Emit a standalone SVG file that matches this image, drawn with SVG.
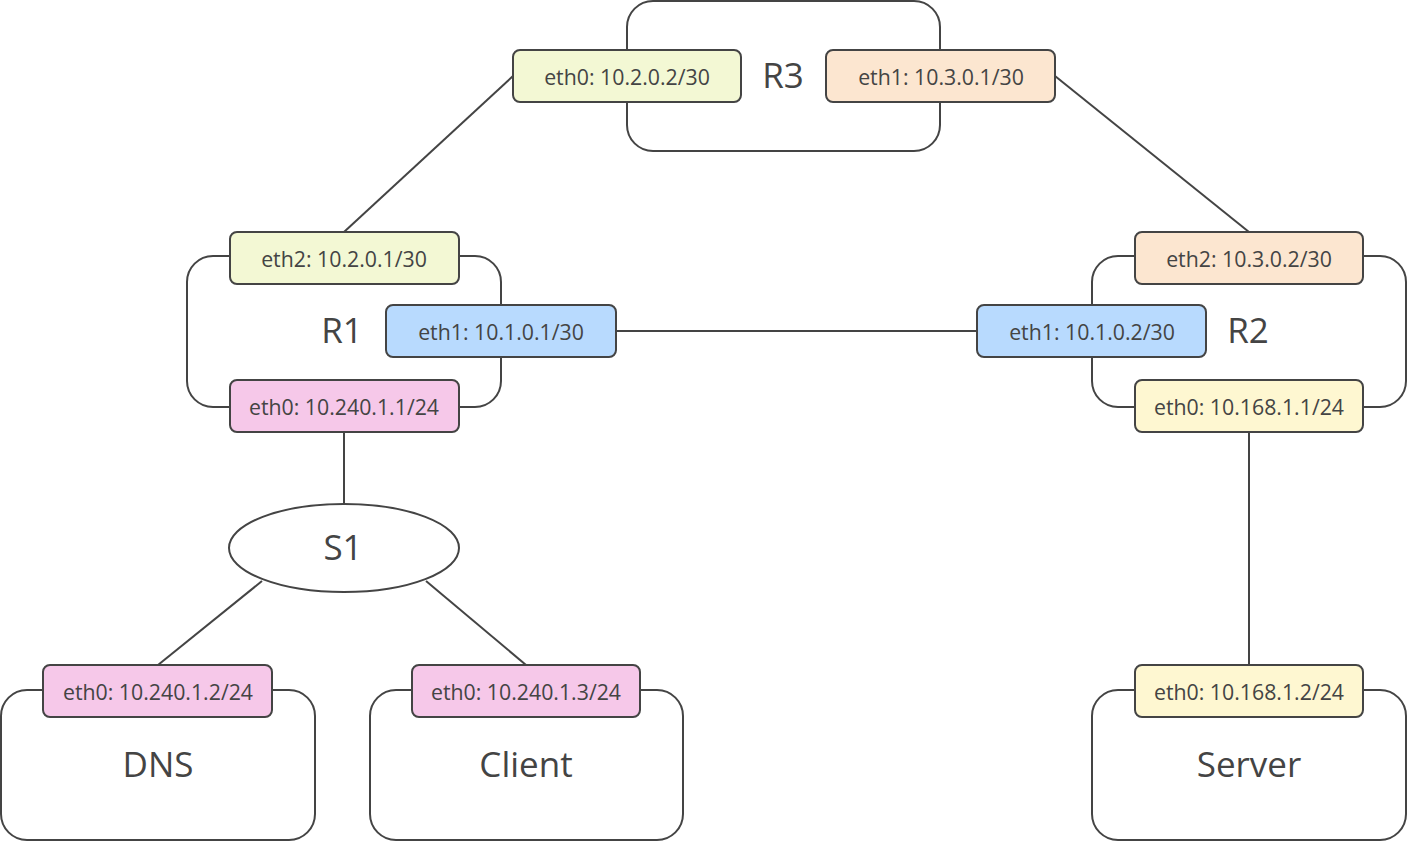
<svg xmlns="http://www.w3.org/2000/svg" width="1407" height="842" viewBox="0 0 1407 842">
<style>
.node{fill:#fff;stroke:#444;stroke-width:2}
.ifc{stroke:#444;stroke-width:2}
.g{fill:#f3f8d4}.o{fill:#fce6d0}.b{fill:#b8dafe}.p{fill:#f6c8e9}.y{fill:#fef7d1}
.it{font-family:"Open Sans",sans-serif;font-size:21.3px;fill:#444;text-anchor:middle;dominant-baseline:central}
.nt{font-family:"Open Sans",sans-serif;font-size:35px;fill:#444;text-anchor:middle;dominant-baseline:central}
.c{stroke:#444;stroke-width:2;fill:none}
</style>
<g id="connectors">
<line class="c" x1="513" y1="76" x2="344" y2="232"/>
<line class="c" x1="1055" y1="76" x2="1249" y2="232"/>
<line class="c" x1="616" y1="331" x2="977" y2="331"/>
<line class="c" x1="344" y1="432" x2="344" y2="504"/>
<line class="c" x1="262" y1="581" x2="158" y2="665"/>
<line class="c" x1="426" y1="581" x2="526" y2="665"/>
<line class="c" x1="1249" y1="432" x2="1249" y2="665"/>
</g>
<g id="R3">
<rect class="node" x="627" y="1" width="313" height="150" rx="26"/>
<text class="nt" x="783" y="74">R3</text>
<rect class="ifc g" x="513" y="50" width="228" height="52" rx="7"/>
<text class="it" x="627" y="76">eth0: 10.2.0.2/30</text>
<rect class="ifc o" x="826" y="50" width="229" height="52" rx="7"/>
<text class="it" x="941" y="76">eth1: 10.3.0.1/30</text>
</g>
<g id="R1">
<rect class="node" x="187" y="256" width="314" height="151" rx="26"/>
<text class="nt" x="342" y="329">R1</text>
<rect class="ifc g" x="230" y="232" width="229" height="52" rx="7"/>
<text class="it" x="344" y="258">eth2: 10.2.0.1/30</text>
<rect class="ifc b" x="386" y="305" width="230" height="52" rx="7"/>
<text class="it" x="501" y="331">eth1: 10.1.0.1/30</text>
<rect class="ifc p" x="230" y="380" width="229" height="52" rx="7"/>
<text class="it" x="344" y="406">eth0: 10.240.1.1/24</text>
</g>
<g id="R2">
<rect class="node" x="1092" y="256" width="314" height="151" rx="26"/>
<text class="nt" x="1248" y="329">R2</text>
<rect class="ifc o" x="1135" y="232" width="228" height="52" rx="7"/>
<text class="it" x="1249" y="258">eth2: 10.3.0.2/30</text>
<rect class="ifc b" x="977" y="305" width="229" height="52" rx="7"/>
<text class="it" x="1092" y="331">eth1: 10.1.0.2/30</text>
<rect class="ifc y" x="1135" y="380" width="228" height="52" rx="7"/>
<text class="it" x="1249" y="406">eth0: 10.168.1.1/24</text>
</g>
<g id="S1">
<ellipse class="node" cx="344" cy="548" rx="115" ry="44"/>
<text class="nt" x="343" y="546">S1</text>
</g>
<g id="DNS">
<rect class="node" x="1" y="690" width="314" height="150" rx="26"/>
<text class="nt" x="158" y="763">DNS</text>
<rect class="ifc p" x="43" y="665" width="229" height="52" rx="7"/>
<text class="it" x="158" y="691">eth0: 10.240.1.2/24</text>
</g>
<g id="Client">
<rect class="node" x="370" y="690" width="313" height="150" rx="26"/>
<text class="nt" x="526" y="763">Client</text>
<rect class="ifc p" x="412" y="665" width="228" height="52" rx="7"/>
<text class="it" x="526" y="691">eth0: 10.240.1.3/24</text>
</g>
<g id="Server">
<rect class="node" x="1092" y="690" width="314" height="150" rx="26"/>
<text class="nt" x="1249" y="763">Server</text>
<rect class="ifc y" x="1135" y="665" width="228" height="52" rx="7"/>
<text class="it" x="1249" y="691">eth0: 10.168.1.2/24</text>
</g>
</svg>
